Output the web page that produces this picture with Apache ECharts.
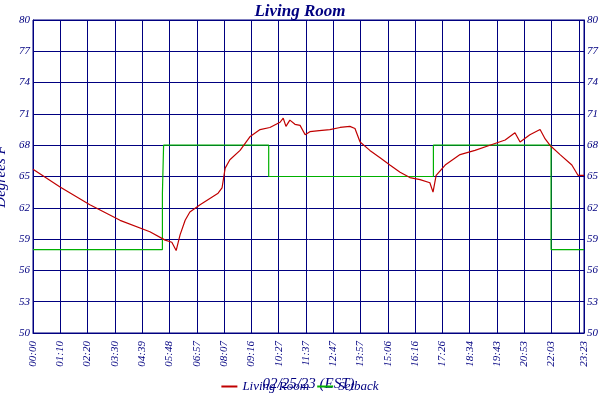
<!DOCTYPE html>
<html><head><meta charset="utf-8">
<script src="https://cdn.jsdelivr.net/npm/echarts@6/dist/echarts.min.js"></script>
<style>html,body{margin:0;padding:0;background:#fff}#c{width:600px;height:400px}</style>
</head><body><div id="c"></div>
<script>
const xTickLabels = ['00:00','01:10','02:20','03:30','04:39','05:48','06:57','08:07','09:16','10:27','11:37','12:47','13:57','15:06','16:16','17:26','18:34','19:43','20:53','22:03','23:12','23:23'];
const roomMinutes = [0,69,145,222,298,337,354,365,375,388,400,426,451,472,482,490,502,528,553,579,604,630,638,645,655,668,681,694,706,730,757,783,808,821,834,859,885,910,936,961,987,1012,1020,1028,1051,1089,1127,1165,1204,1229,1242,1267,1293,1306,1318,1344,1374,1390,1405];
const roomTemps =   [65.7,64.0,62.3,60.8,59.7,58.9,58.7,57.9,59.4,60.8,61.6,62.3,62.9,63.4,63.9,65.8,66.6,67.5,68.8,69.5,69.7,70.2,70.6,69.8,70.4,70.0,69.9,69.0,69.3,69.4,69.5,69.7,69.8,69.6,68.3,67.5,66.8,66.1,65.4,64.9,64.7,64.4,63.5,65.1,66.1,67.1,67.5,68.0,68.5,69.2,68.3,69.0,69.5,68.6,68.0,67.1,66.1,65.1,65.1];
const setMinutes = [0,330,330,333,601,601,1021,1021,1321,1321,1405];
const setTemps =   [58,58,63.4,68,68,65,65,68,68,58,58];
const navy = '#000080';
const font = 'Liberation Serif';
const chart = echarts.init(document.getElementById('c'));
chart.setOption({
  animation:false,
  title:{text:'Living Room',left:'center',top:-2,textStyle:{color:navy,fontFamily:font,fontStyle:'italic',fontWeight:'bold',fontSize:17}},
  legend:{bottom:2,left:'center',itemWidth:16,itemHeight:2,icon:'rect',textStyle:{color:navy,fontFamily:font,fontStyle:'italic',fontSize:13},data:['Living Room','Setback']},
  grid:{left:33,right:16,top:20,bottom:67,show:true,borderColor:navy,borderWidth:1,containLabel:false,outerBoundsMode:'none'},
  xAxis:{type:'value',min:0,max:1405,interval:69.6,name:'02/25/23 (EST)',nameLocation:'middle',nameGap:44,
    nameTextStyle:{color:navy,fontFamily:font,fontStyle:'italic',fontSize:15},
    axisLine:{lineStyle:{color:navy}},axisTick:{show:false},
    splitLine:{show:true,lineStyle:{color:navy,width:1}},
    axisLabel:{rotate:90,color:navy,fontFamily:font,fontStyle:'italic',fontSize:11,showMaxLabel:true,hideOverlap:false,
      formatter:(v)=>{const i=Math.round(v/69.6);return v>=1400?xTickLabels[21]:xTickLabels[i];}}},
  yAxis:[{type:'value',min:50,max:80,interval:3,name:'Degrees F',nameLocation:'middle',nameGap:20,
    nameTextStyle:{color:navy,fontFamily:font,fontStyle:'italic',fontSize:15},
    axisLine:{lineStyle:{color:navy}},axisTick:{show:false},splitLine:{lineStyle:{color:navy,width:1}},
    axisLabel:{color:navy,fontFamily:font,fontStyle:'italic',fontSize:11,margin:3}},
    {type:'value',min:50,max:80,interval:3,position:'right',axisLine:{show:true,lineStyle:{color:navy}},axisTick:{show:false},splitLine:{show:false},
    axisLabel:{color:navy,fontFamily:font,fontStyle:'italic',fontSize:11,margin:3}}],
  series:[
    {name:'Living Room',type:'line',showSymbol:false,symbol:'none',color:'#c00000',lineStyle:{width:1.2,color:'#c00000'},
     data:roomMinutes.map((m,i)=>[m,roomTemps[i]]),z:3},
    {name:'Setback',type:'line',showSymbol:false,symbol:'none',color:'#00b000',lineStyle:{width:1.2,color:'#00b000'},
     data:setMinutes.map((m,i)=>[m,setTemps[i]]),z:2}
  ]
});
</script></body></html>
